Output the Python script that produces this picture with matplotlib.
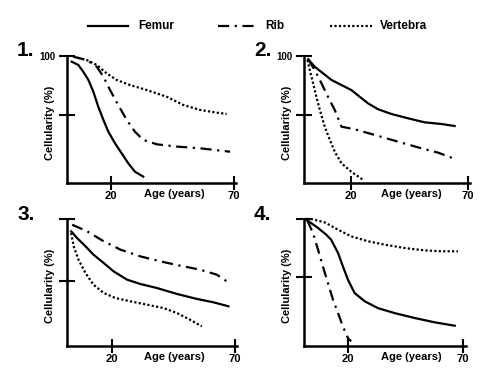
import matplotlib.pyplot as plt
from matplotlib.lines import Line2D

W, H = 495, 381

femur_x = [
    [4.0, 6.7, 8.7, 10.8, 12.8, 14.8, 16.9, 18.9, 21.6, 24.3, 27.0, 29.7, 33.1],
    [1.5, 4.3, 7.9, 11.5, 15.8, 20.0, 23.6, 27.2, 31.5, 37.2, 44.4, 51.5, 58.7, 64.4],
    [3.4, 5.8, 9.2, 12.5, 16.6, 20.6, 26.1, 31.5, 38.2, 46.4, 54.5, 61.2, 67.3],
    [2.3, 7.0, 10.6, 12.7, 15.7, 17.8, 20.0, 22.9, 27.3, 33.0, 40.3, 49.0, 57.7, 66.4],
]
femur_y = [
    [95.2, 92.4, 86.7, 79.7, 69.8, 57.1, 45.8, 35.9, 26.1, 17.6, 9.1, 2.0, -2.2],
    [97.2, 90.9, 85.3, 79.7, 75.4, 71.2, 65.5, 59.9, 54.9, 50.9, 47.2, 43.8, 42.4, 40.7],
    [90.1, 84.7, 78.1, 71.3, 64.7, 58.0, 51.3, 47.8, 44.6, 39.8, 35.8, 33.1, 29.9],
    [98.9, 92.3, 86.5, 82.2, 70.8, 59.4, 47.9, 36.5, 29.4, 23.6, 19.3, 15.1, 11.4, 8.5],
]
rib_x = [
    [4.7, 10.1, 14.2, 16.9, 19.6, 22.9, 26.4, 29.7, 33.1, 38.6, 47.0, 56.2, 68.4],
    [1.5, 4.3, 7.2, 10.0, 12.9, 15.8, 21.5, 30.1, 40.1, 50.1, 57.3, 63.7],
    [3.8, 9.9, 16.6, 23.4, 31.5, 39.6, 47.7, 55.8, 62.6, 66.6],
    [2.3, 4.8, 7.0, 9.1, 11.3, 13.5, 15.7, 17.8, 20.0, 21.4],
]
rib_y = [
    [99.4, 96.6, 90.9, 82.5, 71.2, 58.5, 45.8, 35.9, 28.9, 25.2, 23.2, 21.8, 18.9],
    [97.2, 88.1, 76.9, 65.5, 54.3, 40.1, 37.9, 33.1, 27.4, 21.8, 18.1, 13.4],
    [95.4, 90.1, 82.1, 75.4, 70.0, 66.0, 62.5, 59.3, 55.3, 50.0],
    [98.9, 88.0, 73.7, 59.4, 45.1, 30.8, 19.3, 7.9, -2.1, -4.9],
]
vert_x = [
    [4.7, 10.1, 14.2, 18.2, 22.3, 27.7, 34.5, 42.6, 49.4, 56.2, 62.9, 67.0],
    [1.2, 2.2, 3.6, 5.0, 6.5, 8.6, 10.8, 12.9, 15.8, 20.0, 25.1],
    [3.4, 4.4, 6.4, 9.2, 12.5, 16.6, 21.3, 27.4, 34.2, 40.9, 46.4, 51.7, 56.5],
    [1.9, 4.0, 9.9, 15.7, 21.4, 28.7, 36.0, 44.7, 53.3, 60.6, 67.8],
]
vert_y = [
    [99.4, 96.6, 92.4, 85.3, 79.7, 75.4, 71.2, 65.5, 58.5, 54.3, 52.0, 50.9],
    [96.6, 88.1, 76.9, 65.5, 54.3, 40.1, 28.9, 18.9, 9.1, 2.0, -5.0],
    [88.8, 78.1, 67.3, 56.6, 47.2, 40.6, 36.6, 33.9, 31.2, 28.5, 24.5, 19.1, 13.8],
    [100, 100, 97.1, 90.8, 85.1, 80.9, 78.0, 75.1, 73.1, 72.3, 72.3],
]
panel_labels = ["1.", "2.", "3.", "4."]
x_ticks = [20, 70]
y_ticks = [50, 100]

# axes boxes in pixels: left, right, top, bottom; and data limits
boxes = [(67, 236, 56, 183), (304, 470, 56, 183), (67, 237, 219, 346), (304, 466, 219, 346)]
xlims = [(2.1, 70.8), (-0.3, 71), (1.7, 70.8), (0.9, 71.3)]
ylims = [(-7.6, 100), (-7.6, 100), (-2, 100), (-8.9, 100)]

DASHDOT = (0, (5, 2.5, 1, 2.5))
DOTTED = (0, (1, 1))

plt.rcParams["font.family"] = "Liberation Sans"
plt.rcParams["font.weight"] = "bold"

fig = plt.figure(figsize=(W / 100, H / 100), dpi=100)


def px(x, y):
    return x / W, 1 - y / H


for i in range(4):
    l, r, t, b = boxes[i]
    ax = fig.add_axes([l / W, 1 - b / H, (r - l) / W, (b - t) / H])
    ax.plot(femur_x[i], femur_y[i], color="black", lw=1.6, ls="-", clip_on=False)
    ax.plot(rib_x[i], rib_y[i], color="black", lw=1.6, ls=DASHDOT, clip_on=False)
    ax.plot(vert_x[i], vert_y[i], color="black", lw=1.6, ls=DOTTED, clip_on=False)
    ax.set_xlim(*xlims[i])
    ax.set_ylim(*ylims[i])
    for s in ["top", "right"]:
        ax.spines[s].set_visible(False)
    for s in ["left", "bottom"]:
        ax.spines[s].set_linewidth(1.8)
    ax.set_xticks(x_ticks)
    ax.set_xticklabels([str(v) for v in x_ticks], fontsize=8, fontweight="bold")
    ax.set_yticks(y_ticks)
    ax.set_yticklabels(["", "100"] if i < 2 else ["", ""], fontsize=7, fontweight="bold")
    ax.tick_params(axis="both", direction="inout", width=1.5, pad=2)
    ax.tick_params(axis="y", length=12)
    ax.tick_params(axis="x", length=10, pad=1)
    ax.set_facecolor("none")

    # y label, x label, panel number
    fig.text(*px(l - 17, (t + b) / 2 + 3), "Cellularity (%)", rotation=90,
             ha="center", va="center", fontsize=8, fontweight="bold")
    fig.text(*px(l + 107, b + 11), "Age (years)", ha="center", va="center",
             fontsize=8, fontweight="bold")
    fig.text(*px(l - 50, t - 5), panel_labels[i], ha="left", va="center",
             fontsize=15, fontweight="bold")

# legend across the top
legend_items = [("Femur", "-", 88, 128, 138), ("Rib", DASHDOT, 218, 256, 265),
                ("Vertebra", DOTTED, 330, 372, 380)]
for name, ls, x0, x1, tx in legend_items:
    fig.add_artist(Line2D([x0 / W, x1 / W], [1 - 26 / H, 1 - 26 / H],
                          color="black", lw=1.6, ls=ls, transform=fig.transFigure))
    fig.text(*px(tx, 26), name, ha="left", va="center", fontsize=8.5, fontweight="bold")

fig.savefig("out.png", dpi=100, facecolor="white")
